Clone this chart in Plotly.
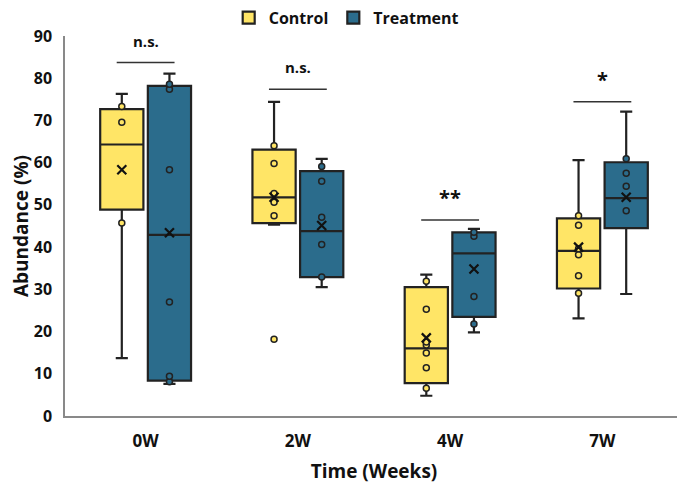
import plotly.graph_objects as go

categories = ["0W", "2W", "4W", "7W"]

# Control box statistics
ctrl_lower = [13.7, 45.3, 4.8, 23.1]
ctrl_q1 = [48.9, 45.7, 7.8, 30.2]
ctrl_median = [64.3, 51.8, 16.0, 39.1]
ctrl_q3 = [72.7, 63.1, 30.5, 46.8]
ctrl_upper = [76.3, 74.4, 33.5, 60.6]
ctrl_mean = [58.3, 51.8, 18.5, 40.0]
ctrl_points = {
    "0W": [73.3, 69.6, 45.7],
    "2W": [64.0, 59.8, 52.7, 50.6, 47.4, 18.2],
    "4W": [31.9, 25.3, 17.5, 16.8, 14.9, 11.4, 6.6],
    "7W": [47.4, 45.2, 39.6, 38.2, 33.2, 29.1],
}

# Treatment box statistics
trt_lower = [7.6, 30.5, 19.8, 28.9]
trt_q1 = [8.4, 32.9, 23.5, 44.5]
trt_median = [42.9, 43.8, 38.5, 51.6]
trt_q3 = [78.2, 58.0, 43.5, 60.1]
trt_upper = [81.1, 60.9, 44.3, 72.1]
trt_mean = [43.4, 45.1, 34.8, 51.8]
trt_points = {
    "0W": [78.6, 77.4, 58.3, 27.0, 9.4, 8.1],
    "2W": [59.1, 55.6, 47.1, 40.6, 32.9],
    "4W": [43.5, 42.6, 28.3, 21.8],
    "7W": [60.9, 57.5, 54.4, 48.6],
}

# Significance brackets
sig_labels = ["n.s.", "n.s.", "**", "*"]
sig_line_y = [83.7, 77.4, 46.4, 74.4]

YELLOW = "#FFE566"
BLUE = "#2B6C8C"
DARK = "#222222"
TXT = "#111111"

fig = go.Figure()

groups = [
    ("Control", "c", YELLOW, ctrl_lower, ctrl_q1, ctrl_median, ctrl_q3, ctrl_upper, ctrl_mean, ctrl_points),
    ("Treatment", "t", BLUE, trt_lower, trt_q1, trt_median, trt_q3, trt_upper, trt_mean, trt_points),
]

for name, og, col, lo, q1, med, q3, up, mean, pts in groups:
    fig.add_trace(go.Box(
        x=categories, q1=q1, median=med, q3=q3, lowerfence=lo, upperfence=up,
        name=name, offsetgroup=og, fillcolor=col,
        line=dict(color=DARK, width=2.2), whiskerwidth=0.28,
        boxpoints=False, showlegend=True,
    ))

for name, og, col, lo, q1, med, q3, up, mean, pts in groups:
    xs, ys = [], []
    for c in categories:
        for v in pts[c]:
            xs.append(c)
            ys.append(v)
    fig.add_trace(go.Box(
        x=xs, y=ys, name=name + " points", offsetgroup=og,
        boxpoints="all", jitter=0, pointpos=0,
        fillcolor="rgba(0,0,0,0)", line=dict(color="rgba(0,0,0,0)", width=0),
        whiskerwidth=0,
        marker=dict(symbol="circle", size=6, color=col, line=dict(color=DARK, width=1.5)),
        showlegend=False,
    ))
    fig.add_trace(go.Box(
        x=categories, y=mean, name=name + " mean", offsetgroup=og,
        boxpoints="all", jitter=0, pointpos=0,
        fillcolor="rgba(0,0,0,0)", line=dict(color="rgba(0,0,0,0)", width=0),
        whiskerwidth=0,
        marker=dict(symbol="x-thin", size=9, color=TXT, line=dict(color=TXT, width=2.2)),
        showlegend=False,
    ))

FONT = "Open Sans"
for i, (lab, ly) in enumerate(zip(sig_labels, sig_line_y)):
    fig.add_shape(type="line", xref="x", yref="y", x0=i - 0.19, x1=i + 0.19, y0=ly, y1=ly,
                  line=dict(color="#333333", width=1.5))
    star = "*" in lab
    fig.add_annotation(x=categories[i], y=ly, xref="x", yref="y", text=lab, showarrow=False,
                       yanchor="bottom", yshift=(7 if star else 10),
                       font=dict(family=FONT, size=(20 if star else 15), color=TXT, weight="bold"))

fig.update_layout(
    width=677, height=481,
    margin=dict(l=57, r=2, t=28, b=73, autoexpand=False),
    paper_bgcolor="white", plot_bgcolor="white",
    boxmode="group", boxgap=0.374, boxgroupgap=0.093,
    font=dict(family=FONT, size=16, color=TXT, weight="bold"),
    legend=dict(orientation="h", x=0.455, xanchor="center", y=1.048, yanchor="middle",
                font=dict(family=FONT, size=16, color=TXT, weight="bold"),
                itemwidth=30, bgcolor="rgba(0,0,0,0)", tracegroupgap=0),
    showlegend=True,
)
fig.update_xaxes(
    type="category", categoryorder="array", categoryarray=categories,
    showline=True, linecolor="#898989", linewidth=1.5, showgrid=False, zeroline=False,
    ticks="outside", ticklen=9, tickcolor="rgba(0,0,0,0)", automargin=False,
    tickfont=dict(family=FONT, size=17, weight="bold"),
    title=dict(text="Time (Weeks)", font=dict(family=FONT, size=19, weight="bold"), standoff=14),
)
fig.update_yaxes(
    range=[0, 90], dtick=10, tick0=0,
    showline=True, linecolor="#898989", linewidth=1.5, showgrid=False, zeroline=False,
    ticks="outside", ticklen=8, tickcolor="rgba(0,0,0,0)", automargin=False,
    tickfont=dict(family=FONT, size=16, weight="bold"),
    title=dict(text="Abundance (%)", font=dict(family=FONT, size=19, weight="bold"), standoff=8),
)

fig.write_html("out.html")
